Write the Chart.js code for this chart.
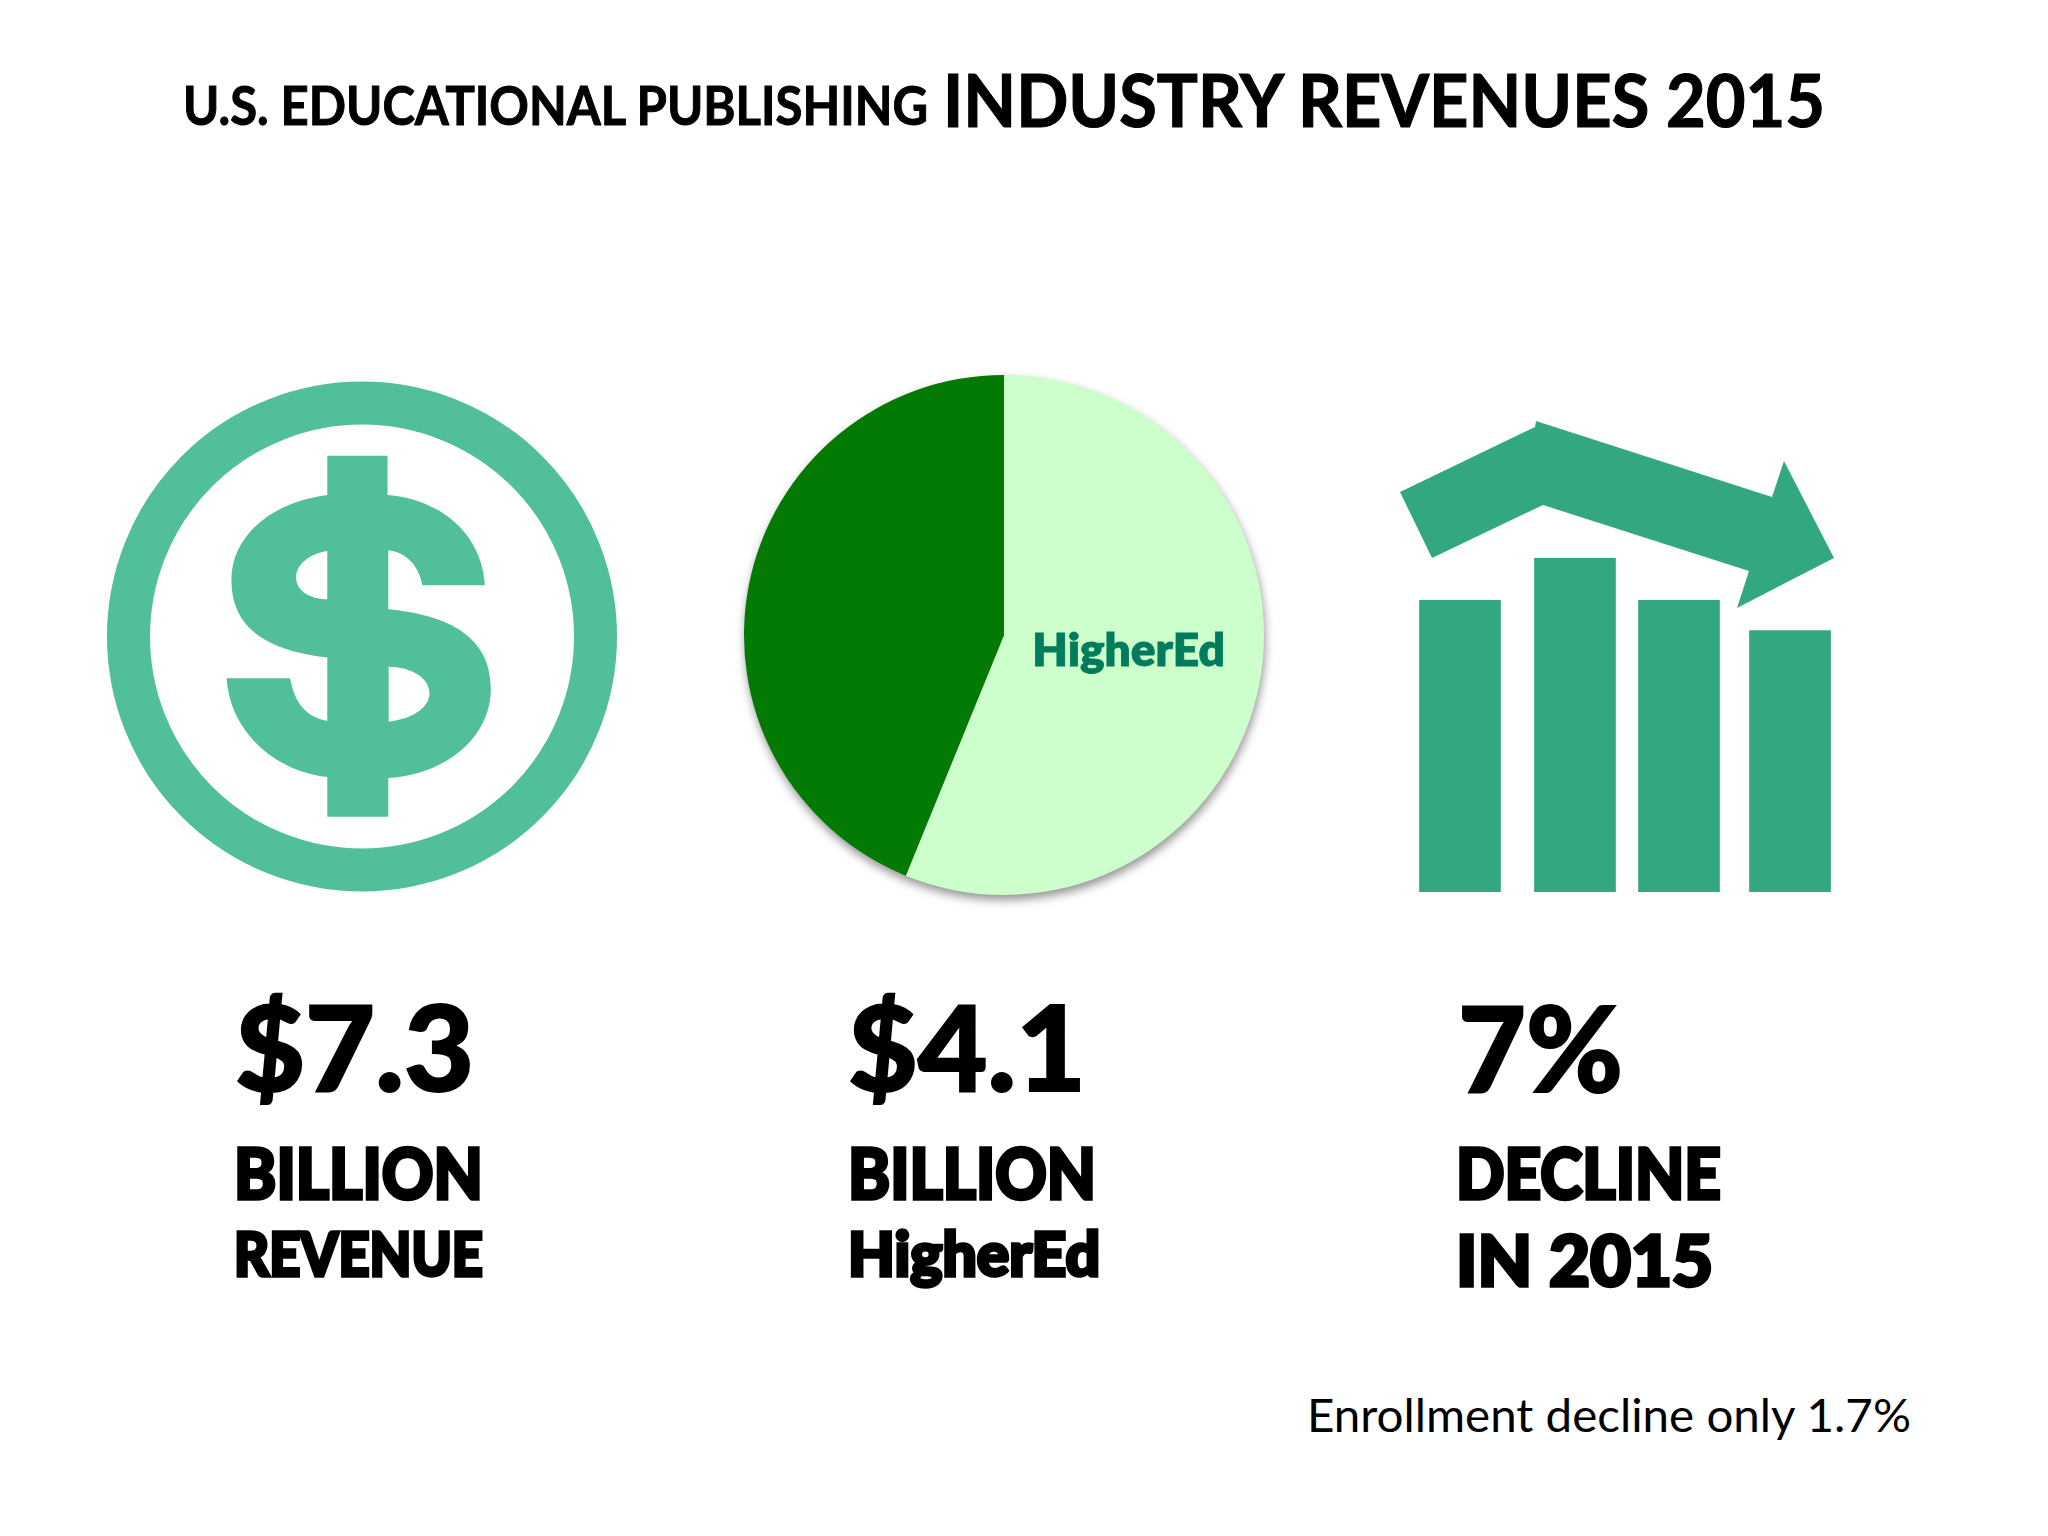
<!DOCTYPE html>
<html>
<head>
<meta charset="utf-8">
<script src="https://cdn.jsdelivr.net/npm/chart.js@4"></script>
<style>
  html, body { margin: 0; background: #fff; }
  #page { position: relative; width: 2048px; height: 1536px; overflow: hidden; background: #fff; }
  #page svg { position: absolute; left: 0; top: 0; }
  #page text { font-family: Lato, sans-serif; fill: #000; }
  .t1 { font-size: 53px; font-weight: 700; stroke: #000; stroke-width: 1px; }
  .t2 { font-size: 72px; font-weight: 700; stroke: #000; stroke-width: 1.2px; }
  .big { font-size: 118px; font-weight: 900; stroke: #000; stroke-width: 2px; }
  .mid { font-size: 70px; font-weight: 900; stroke: #000; stroke-width: 3.5px; }
  .low { font-size: 61px; font-weight: 900; stroke: #000; stroke-width: 3.5px; }
  .note { font-size: 47px; font-weight: 400; }
  #pieBox { position: absolute; left: 724px; top: 355px; width: 560px; height: 560px;
            filter: drop-shadow(1px 5px 5px rgba(60, 60, 60, 0.55)); }
  #barBox { position: absolute; left: 1405px; top: 558px; width: 440px; height: 334px; }
</style>
</head>
<body>
<div id="page">
  <svg width="2048" height="1536" viewBox="0 0 2048 1536">
    <text class="t1" x="183" y="125" textLength="745" lengthAdjust="spacingAndGlyphs">U.S. EDUCATIONAL PUBLISHING</text>
    <text class="t2" x="943" y="127" textLength="882" lengthAdjust="spacingAndGlyphs">INDUSTRY REVENUES 2015</text>

    <!-- icono del dolar -->
    <circle cx="362" cy="636.5" r="233.5" fill="none" stroke="#50BF9A" stroke-width="43"/>
    <g transform="translate(79 361) scale(0.3717 0.3505)">
      <path fill="#50BF9A" fill-rule="evenodd" d="M668 270 L830 270 L830 382 C980 395 1085 500 1092 640 L924 640 C915 585 880 545 832 540 L832 708 C1000 725 1108 790 1108 935 C1108 1075 985 1180 832 1190 L832 1300 L668 1300 L668 1187 C520 1170 405 1050 397 905 L568 905 C580 975 610 1015 668 1027 L668 846 C500 825 410 760 410 625 C410 490 530 400 668 382 Z
        M668 542 C620 550 584 580 584 618 C584 655 620 680 668 680 Z
        M833 872 C895 872 943 905 943 948 C943 990 895 1022 833 1029 Z"/>
    </g>

    <!-- flecha sobre las barras -->
    <polygon fill="#33A880" points="1400,492 1535,427 1536,421 1772,497 1784,461 1834,558 1737,608 1749,571 1543,505 1432,558"/>

    <text class="big" x="235" y="1091" textLength="239" lengthAdjust="spacingAndGlyphs">$7.3</text>
    <text class="mid" x="234" y="1199" textLength="249" lengthAdjust="spacingAndGlyphs">BILLION</text>
    <text class="low" x="234" y="1276" textLength="249" lengthAdjust="spacingAndGlyphs">REVENUE</text>

    <text class="big" x="848" y="1091" textLength="238" lengthAdjust="spacingAndGlyphs">$4.1</text>
    <text class="mid" x="848" y="1199" textLength="248" lengthAdjust="spacingAndGlyphs">BILLION</text>
    <text class="low" x="848" y="1276" textLength="252" lengthAdjust="spacingAndGlyphs">HigherEd</text>

    <text class="big" x="1458" y="1092" textLength="165" lengthAdjust="spacingAndGlyphs">7%</text>
    <text class="mid" x="1456" y="1199" textLength="265" lengthAdjust="spacingAndGlyphs">DECLINE</text>
    <text class="mid" x="1456" y="1286" textLength="257" lengthAdjust="spacingAndGlyphs">IN 2015</text>

    <text class="note" x="1307" y="1432" textLength="604" lengthAdjust="spacingAndGlyphs">Enrollment decline only 1.7%</text>
  </svg>
  <div id="pieBox"><canvas id="pie" width="560" height="560"></canvas></div>
  <div id="barBox"><canvas id="bars" width="440" height="334"></canvas></div>
</div>

<script>
// Datos (miles de millones de dolares)
const pieLabels = ['HigherEd', 'Other'];
const pieValues = [4.1, 3.2];
const pieColors = ['#CCFFCC', '#037A03'];

// Alturas relativas de las barras del icono
const barLabels = ['2012', '2013', '2014', '2015'];
const barValues = [87.3, 100, 87.3, 78.3];

// El icono no tiene las barras a igual distancia
const barNudge = [0, 5, -1, 0];

const nudgeBars = {
  id: 'nudgeBars',
  afterDatasetsUpdate(chart) {
    chart.getDatasetMeta(0).data.forEach((bar, i) => {
      bar.x += barNudge[i];
    });
  },
};

// Etiqueta dentro de la porcion clara
const sliceLabel = {
  id: 'sliceLabel',
  afterDatasetsDraw(chart) {
    const arc = chart.getDatasetMeta(0).data[0];
    const pos = arc.tooltipPosition();
    const ctx = chart.ctx;
    ctx.save();
    ctx.font = '800 46px Lato, sans-serif';
    ctx.fillStyle = '#007C5C';
    ctx.strokeStyle = '#007C5C';
    ctx.lineWidth = 0.8;
    ctx.textAlign = 'center';
    ctx.textBaseline = 'middle';
    ctx.fillText(pieLabels[0], pos.x - 3, pos.y - 9);
    ctx.strokeText(pieLabels[0], pos.x - 3, pos.y - 9);
    ctx.restore();
  },
};

new Chart(document.getElementById('pie'), {
  type: 'pie',
  data: {
    labels: pieLabels,
    datasets: [{ data: pieValues, backgroundColor: pieColors, borderWidth: 0 }],
  },
  options: {
    responsive: false,
    animation: false,
    layout: { padding: 20 },
    plugins: { legend: { display: false }, tooltip: { enabled: false } },
  },
  plugins: [sliceLabel],
});

new Chart(document.getElementById('bars'), {
  type: 'bar',
  data: {
    labels: barLabels,
    datasets: [{ data: barValues, backgroundColor: '#33A880', barThickness: 81 }],
  },
  options: {
    responsive: false,
    animation: false,
    layout: { padding: 0 },
    scales: {
      x: { display: false },
      y: { display: false, min: 0, max: 100 },
    },
    plugins: { legend: { display: false }, tooltip: { enabled: false } },
  },
  plugins: [nudgeBars],
});
</script>
</body>
</html>
